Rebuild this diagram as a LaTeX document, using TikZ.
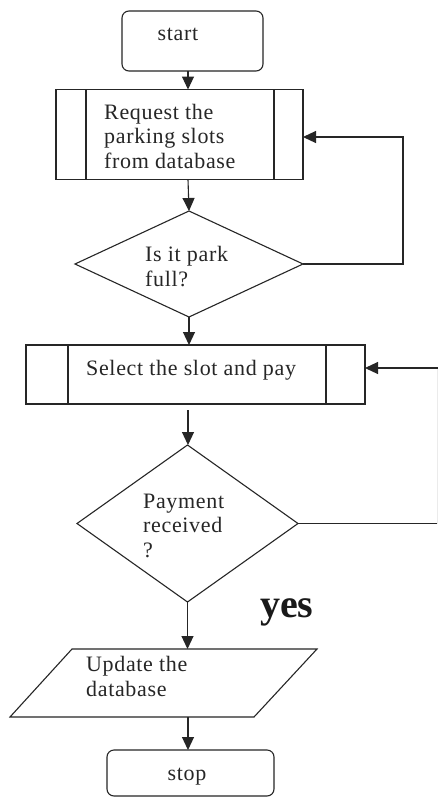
\documentclass[tikz,border=0pt]{standalone}
\usepackage{fontspec}
\setmainfont{Liberation Serif}[LetterSpace=3]
\newfontfamily\yesfont{Liberation Serif}
\usetikzlibrary{shapes.geometric,arrows.meta}
\tikzset{
  outl/.style={draw=black!85, line width=1.1pt, inner sep=0pt, outer sep=0pt},
  term/.style={outl, rectangle, rounded corners=7pt},
  proc/.style={outl, rectangle},
  dec/.style={outl, diamond},
  conn/.style={draw=black!85, line width=1.1pt},
  arr/.style={conn, -{Triangle[length=13pt,width=12pt]}},
  txt/.style={font=\fontsize{22}{24.5}\selectfont, align=left, inner sep=0pt, text=black!85}
}
\begin{document}
\begin{tikzpicture}[x=1pt,y=-1pt]
\useasboundingbox (0,0) rectangle (438,798);
\fill[white] (0,0) rectangle (438,798);
\coordinate (col) at (188,0);
% shapes
\node[term, minimum width=141pt, minimum height=60pt] (start) at (192.5,41) {};
\node[proc, minimum width=247pt, minimum height=90pt] (req) at (179.5,134.5) {};
\draw[conn] ([xshift=30pt]req.north west) -- ([xshift=30pt]req.south west);
\draw[conn] ([xshift=-29pt]req.north east) -- ([xshift=-29pt]req.south east);
\node[dec, minimum width=228pt, minimum height=106pt] (d1) at (189,264) {};
\node[proc, minimum width=339pt, minimum height=59pt] (sel) at (195.5,374.5) {};
\draw[conn] ([xshift=42pt]sel.north west) -- ([xshift=42pt]sel.south west);
\draw[conn] ([xshift=-39pt]sel.north east) -- ([xshift=-39pt]sel.south east);
\node[dec, minimum width=221pt, minimum height=157pt] (d2) at (187.5,523.5) {};
\coordinate (u1) at (72,649);
\coordinate (u2) at (317,649);
\coordinate (u3) at (254,717);
\coordinate (u4) at (10,717);
\draw[conn, line join=miter] (u1) -- (u2) -- (u3) -- (u4) -- cycle;
\coordinate (updtop) at (188,649);
\coordinate (updbot) at (188,717);
\node[term, minimum width=167pt, minimum height=46pt] (stop) at (190.5,773) {};
% texts (base anchor = baseline of last line)
\node[txt, anchor=base] (tstart) at (178,40) {start};
\node[txt, anchor=base west] (treq) at (104,168) {Request the\\parking slots\\from database};
\node[txt, anchor=base west] (td1) at (145,286) {Is it park\\full?};
\node[txt, anchor=base west] (tsel) at (86,375) {Select the slot and pay};
\node[txt, anchor=base west] (td2) at (143,557) {Payment\\received\\?};
\node[font=\yesfont\bfseries\fontsize{40}{40}\selectfont, anchor=base west, inner sep=0pt, text=black!90] (yes) at (260,617) {yes};
\node[txt, anchor=base west] (tupd) at (86,696) {Update the\\database};
\node[txt, anchor=base] (tstop) at (187,780) {stop};
% connectors
\draw[arr] (start.south -| col) -- (req.north -| col);
\draw[arr] (req.south -| col) -- (d1.north);
\draw[arr] (d1.south) -- (sel.north -| d1.south);
\draw[arr, shorten <=6pt] (sel.south -| col) -- (d2.north -| col);
\draw[arr] (d2.south) -- (updtop -| d2.south);
\draw[arr] (updbot) -- (stop.north -| col);
\coordinate (r1) at (403,137);
\draw[arr] (d1.east) -| (r1) -- (r1 -| req.east);
\coordinate (r2) at (437.5,368);
\draw[conn] (d2.east) -- (d2.east -| r2);
\draw[conn, draw=black!8] (d2.east -| r2) -- (r2);
\draw[arr] (r2) -- (r2 -| sel.east);
\end{tikzpicture}
\end{document}
